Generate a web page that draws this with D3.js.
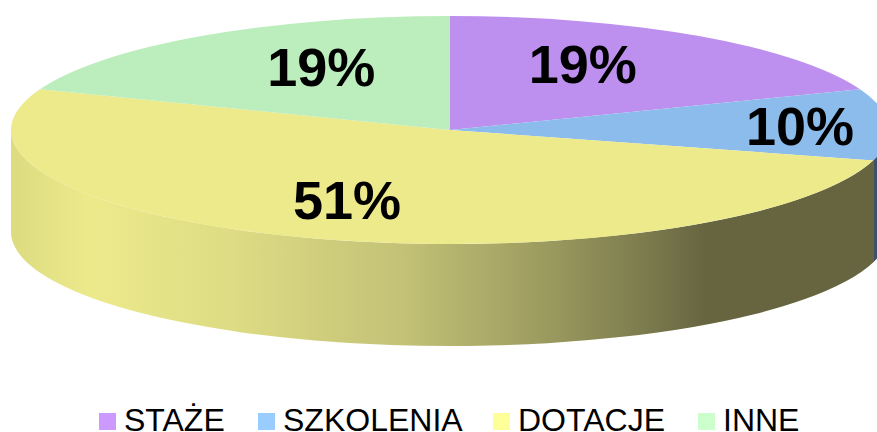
<!DOCTYPE html>
<html>
<head>
<meta charset="utf-8">
<script src="https://cdnjs.cloudflare.com/ajax/libs/d3/7.8.5/d3.min.js"></script>
<style>
    html, body { margin: 0; padding: 0; background: #fff; }
    svg { display: block; }
    text { font-family: "Liberation Sans", Arial, sans-serif; fill: #000; }
</style>
</head>
<body>
<svg id="chart" width="877" height="432"></svg>
<script>
const categories = ["STAŻE", "SZKOLENIA", "DOTACJE", "INNE"];
const shares = [19, 10, 51, 19];
const labelShares = ["19%", "10%", "51%", "19%"];
const topColors = ["#bd8fee", "#8cbcec", "#ecea8b", "#bceebd"];
const legendColors = ["#cc99ff", "#99ccff", "#ffff99", "#ccffcc"];

const cx = 450, cy = 130, rx = 439, ry = 114, depth = 102;

const svg = d3.select("#chart");

// pie is flattened with a y scale on a circle of radius rx
const squash = ry / rx;
const arcs = d3.pie().sort(null).value(d => d)(shares);
const arcGen = d3.arc().innerRadius(0).outerRadius(rx);

const defs = svg.append("defs");
const wallFade = defs.append("linearGradient")
    .attr("id", "wallFade")
    .attr("gradientUnits", "userSpaceOnUse")
    .attr("x1", 11).attr("x2", 889).attr("y1", 0).attr("y2", 0);
[[0, "#dcdb80"], [0.09, "#ecea8b"], [0.25, "#dedc84"], [0.45, "#c2c176"], [0.6, "#9e9d60"], [0.72, "#7d7c4e"], [0.79, "#666540"], [1, "#666540"]]
    .forEach(s => wallFade.append("stop").attr("offset", s[0]).attr("stop-color", s[1]));

// side wall between two pie angles (0 = 12 o'clock, clockwise)
const ex = a => cx + rx * Math.sin(a);
const ey = a => cy - ry * Math.cos(a);
const wallPath = (a0, a1) => {
    return `M${ex(a0)},${ey(a0)} A${rx},${ry} 0 0 1 ${ex(a1)},${ey(a1)}`
        + ` L${ex(a1)},${ey(a1) + depth} A${rx},${ry} 0 0 0 ${ex(a0)},${ey(a0) + depth} Z`;
};

svg.append("path")
    .attr("d", wallPath(Math.PI / 2, arcs[1].endAngle))
    .attr("fill", "#3f5068");
svg.append("path")
    .attr("d", wallPath(arcs[2].startAngle, 3 * Math.PI / 2))
    .attr("fill", "url(#wallFade)");

svg.append("g")
    .attr("transform", `translate(${cx},${cy}) scale(1,${squash})`)
    .selectAll("path")
    .data(arcs)
    .enter().append("path")
    .attr("d", arcGen)
    .attr("fill", (d, i) => topColors[i]);

// nudges from the slice centroid, same order as categories
const labelNudge = [[-29, -5], [65, 0], [-14, 0], [33, -2]];
svg.append("g").selectAll("text")
    .data(arcs)
    .enter().append("text")
    .attr("x", (d, i) => ex((d.startAngle + d.endAngle) / 2) * 0.65 + cx * 0.35 + labelNudge[i][0])
    .attr("y", (d, i) => ey((d.startAngle + d.endAngle) / 2) * 0.65 + cy * 0.35 + labelNudge[i][1] + 19)
    .attr("text-anchor", "middle")
    .attr("font-size", 54)
    .attr("font-weight", "bold")
    .text((d, i) => labelShares[i]);

const legendX = [99, 258, 493, 698];
const legend = svg.append("g").selectAll("g")
    .data(categories)
    .enter().append("g")
    .attr("transform", (d, i) => `translate(${legendX[i]},413)`);
legend.append("rect")
    .attr("width", 17).attr("height", 17)
    .attr("fill", (d, i) => legendColors[i]);
legend.append("text")
    .attr("x", 25).attr("y", 18)
    .attr("font-size", 32)
    .text(d => d);
</script>
</body>
</html>
